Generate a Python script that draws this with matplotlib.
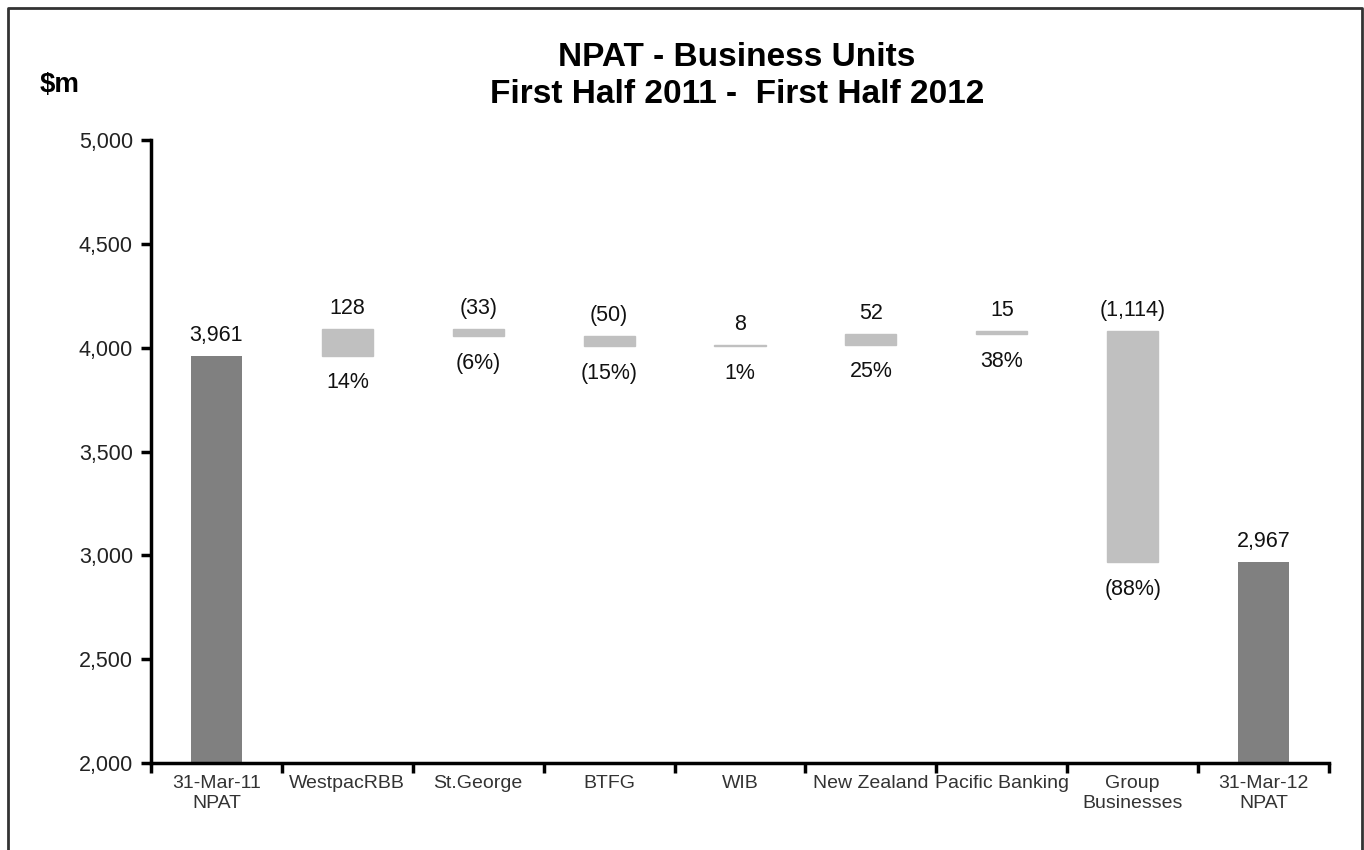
import numpy as np
import matplotlib.pyplot as plt
from matplotlib.lines import Line2D

plt.rcParams['font.family'] = ['Liberation Sans', 'DejaVu Sans']

# Waterfall data ($m)
categories = ["31-Mar-11\nNPAT", "WestpacRBB", "St.George", "BTFG", "WIB",
              "New Zealand", "Pacific Banking", "Group\nBusinesses",
              "31-Mar-12\nNPAT"]
start_npat = 3961
changes = [128, -33, -50, 8, 52, 15, -1114]
end_npat = 2967
value_labels = ["3,961", "128", "(33)", "(50)", "8", "52", "15", "(1,114)",
                "2,967"]
pct_labels = ["14%", "(6%)", "(15%)", "1%", "25%", "38%", "(88%)"]

DARK = "#808080"
LIGHT = "#c0c0c0"

fig = plt.figure(figsize=(13.64, 8.5), dpi=100)
ax = fig.add_axes([151 / 1364, 1 - 763 / 850, 1178 / 1364, 623 / 850])

x = np.arange(len(categories))
width = 0.39

# totals
ax.bar(x[0], start_npat - 2000, bottom=2000, width=width, color=DARK)
ax.bar(x[-1], end_npat - 2000, bottom=2000, width=width, color=DARK)

# increments
running = start_npat
tops = [start_npat]
bottoms = []
for i, ch in enumerate(changes, start=1):
    lo, hi = min(running, running + ch), max(running, running + ch)
    ax.bar(x[i], hi - lo, bottom=lo, width=width, color=LIGHT,
           edgecolor=LIGHT, linewidth=1)
    tops.append(hi)
    bottoms.append(lo)
    running += ch
tops.append(end_npat)

for i, lab in enumerate(value_labels):
    ax.annotate(lab, (x[i], tops[i]), xytext=(0, 7), textcoords="offset points",
                ha="center", va="bottom", fontsize=15.5, color="#111111")
for i, lab in enumerate(pct_labels, start=1):
    ax.annotate(lab, (x[i], bottoms[i - 1]), xytext=(0, -12),
                textcoords="offset points", ha="center", va="top",
                fontsize=15.5, color="#111111")

ax.set_xlim(-0.5, len(categories) - 0.5)
ax.set_ylim(2000, 5000)
ax.set_yticks(np.arange(2000, 5001, 500))
ax.set_yticklabels([f"{v:,}" for v in range(2000, 5001, 500)], fontsize=15.5,
                   color="#222222")
ax.set_xticks(x)
ax.set_xticklabels(categories, fontsize=14, color="#333333")
ax.tick_params(axis="x", length=0, pad=9)
ax.set_xticks(np.arange(-0.5, len(categories)), minor=True)
ax.tick_params(axis="x", which="minor", length=7, width=2.5, direction="out")
ax.tick_params(axis="y", length=7, width=2.5, direction="out", pad=6)

for s in ["top", "right"]:
    ax.spines[s].set_visible(False)
for s in ["left", "bottom"]:
    ax.spines[s].set_linewidth(2.5)

fig.text(40 / 1364, 1 - 85 / 850, "$m", fontsize=20, fontweight="bold",
         ha="left", va="center")
fig.text(737 / 1364, 1 - 76 / 850, "NPAT - Business Units\nFirst Half 2011 -  First Half 2012",
         fontsize=24, fontweight="bold", ha="center", va="center",
         linespacing=1.25)

# outer frame (left, top, right)
fx = [8 / 1364, 8 / 1364, 1362 / 1364, 1362 / 1364]
fy = [0, 1 - 8 / 850, 1 - 8 / 850, 0]
fig.add_artist(Line2D(fx, fy, transform=fig.transFigure, color="#333333",
                      linewidth=2))

fig.savefig("out.png", dpi=100)
